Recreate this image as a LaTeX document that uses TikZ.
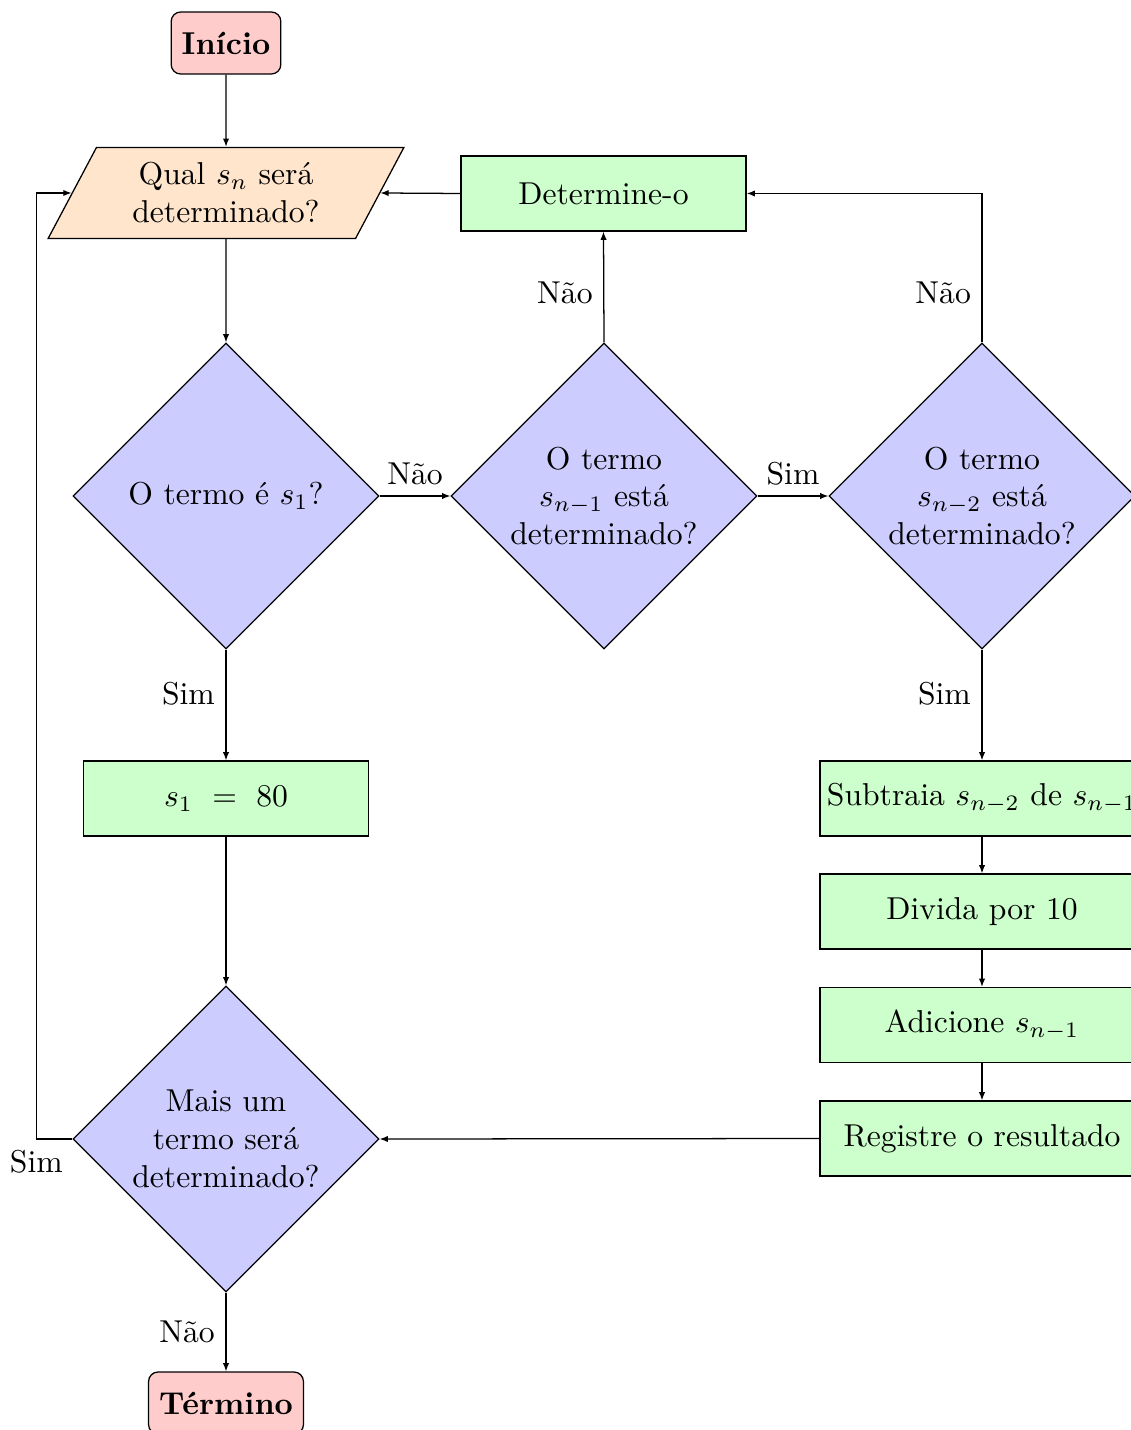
\documentclass[tikz,border=0pt]{standalone}
\usetikzlibrary{shapes.geometric,arrows.meta}
\begin{document}
\begin{tikzpicture}[x=0.316pt,y=-0.316pt,
  line width=0.4pt,
  arr/.style={-{Latex[length=2.6pt,width=2pt]}},
  startstop/.style={draw, rounded corners=3pt, fill=red!20, minimum width=34.1pt, minimum height=19.6pt, font=\bfseries},
  iobox/.style={draw, trapezium, trapezium left angle=60, trapezium right angle=120, trapezium stretches=true, fill=orange!20, minimum width=113.4pt, minimum height=28.8pt, align=center, inner sep=0pt},
  procbox/.style={draw, rectangle, fill=green!20, minimum width=90.1pt, minimum height=23.7pt, align=center},
  widebox/.style={procbox, minimum width=102.4pt, inner xsep=1pt},
  decision/.style={draw, diamond, fill=blue!20, minimum width=96.7pt, minimum height=96.7pt, inner sep=0pt, align=center}]
\clip (0,0) rectangle (1131,1430);

\node[startstop] (start) at (226,43) {Início};
\node[iobox] (par) at (226,193) {Qual $s_n$ será\\determinado?};
\node[procbox] (det) at (603.5,193.5) {Determine-o};
\node[decision] (d1) at (226,496) {O termo é $s_1$?};
\node[decision] (d2) at (604,496) {O termo\\$s_{n-1}$ está\\determinado?};
\node[decision] (d3) at (982,496) {O termo\\$s_{n-2}$ está\\determinado?};
\node[procbox] (s1) at (226,798.5) {$s_1\ =\ 80$};
\node[widebox] (sub) at (982,798.5) {Subtraia $s_{n-2}$ de $s_{n-1}$};
\node[widebox] (div) at (982,911.5) {Divida por 10};
\node[widebox] (add) at (982,1025) {Adicione $s_{n-1}$};
\node[widebox] (reg) at (982,1138.5) {Registre o resultado};
\node[decision] (d4) at (226,1139) {Mais um\\termo será\\determinado?};
\node[startstop, minimum width=48pt] (end) at (226,1403) {Término};

\draw[arr] (start) -- (par);
\draw[arr] (par) -- (d1);
\draw[arr] (d1.east) -- node[above]{Não} (d2.west);
\draw[arr] (d2.north) -- node[left,pos=0.45]{Não} (det.south);
\draw[arr] (det.west) -- (par.east);
\draw[arr] (d2.east) -- node[above]{Sim} (d3.west);
\draw[arr] (d3.north) -- node[left,pos=0.33]{Não} (d3.north |- det.east) -- (det.east);
\draw[arr] (d1.south) -- node[left,pos=0.4]{Sim} (s1.north);
\draw[arr] (d3.south) -- node[left,pos=0.4]{Sim} (sub.north);
\draw[arr] (sub) -- (div);
\draw[arr] (div) -- (add);
\draw[arr] (add) -- (reg);
\draw[arr] (reg.west) -- (d4.east);
\draw[arr] (s1.south) -- (d4.north);
\draw[arr] (d4.west) -- ++(-36,0) node[below]{Sim} |- (par.west);
\draw[arr] (d4.south) -- node[left]{Não} (end.north);
\end{tikzpicture}
\end{document}
